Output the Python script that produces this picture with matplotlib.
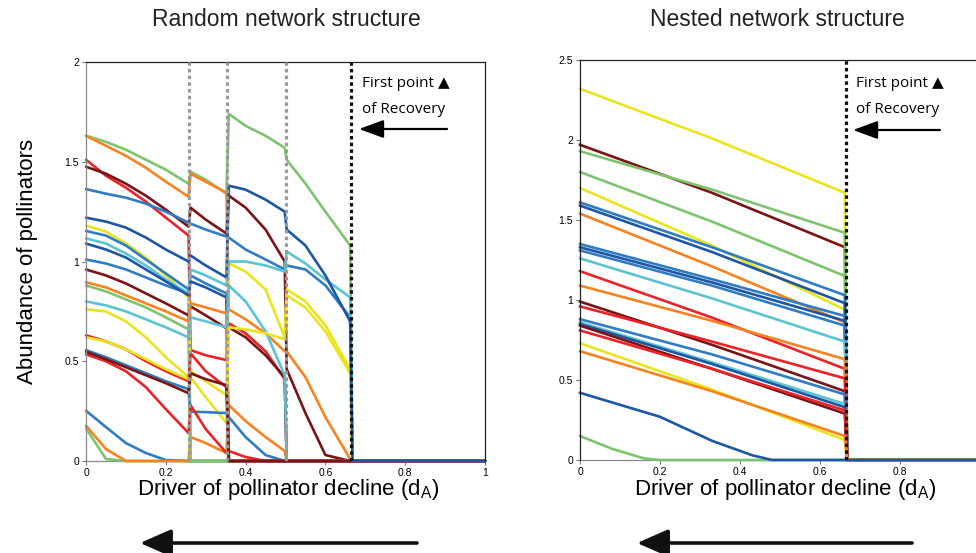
import matplotlib
matplotlib.use("Agg")
import matplotlib.pyplot as plt

plt.rcParams['font.family'] = ['Liberation Sans', 'DejaVu Sans']
plt.rcParams['mathtext.fontset'] = 'custom'
plt.rcParams['mathtext.rm'] = 'Liberation Sans'

GREEN = '#7dc46e'
ORANGE = '#f7821f'
RED = '#ec2227'
DARKRED = '#7a1315'
BLUE = '#2f7cc4'
DARKBLUE = '#1e56a6'
YELLOW = '#e9e51a'
CYAN = '#5bc4d3'

# random network: abundances sampled on a grid that steps over the collapse points
random_x = [0, 0.05, 0.1, 0.15, 0.2, 0.257, 0.262, 0.3, 0.352, 0.358, 0.4, 0.45,
            0.498, 0.503, 0.55, 0.6, 0.662, 0.668, 1.0]
random_breaks = [0.258, 0.354, 0.50]
random_recovery = 0.664

random_colors = [GREEN, BLUE, ORANGE, BLUE, YELLOW, GREEN,
                 GREEN, ORANGE, RED, DARKRED, BLUE, YELLOW, BLUE, CYAN, DARKBLUE,
                 DARKRED, ORANGE, CYAN, RED, YELLOW, BLUE, RED,
                 DARKRED, DARKBLUE]
random_curves = [
    [0.164, 0.01, 0, 0, 0, 0, 0, 0, 0, 0, 0, 0, 0, 0, 0, 0, 0, 0, 0],
    [0.252, 0.17, 0.09, 0.04, 0.005, 0, 0, 0, 0, 0, 0, 0, 0, 0, 0, 0, 0, 0, 0],
    [0.177, 0.06, 0, 0, 0, 0, 0.12, 0.09, 0.04, 0.28, 0.20, 0.12, 0.05, 0, 0, 0, 0, 0, 0],
    [1.01, 0.99, 0.96, 0.92, 0.88, 0.84, 0, 0, 0, 0, 0, 0, 0, 0, 0, 0, 0, 0, 0],
    [0.76, 0.75, 0.70, 0.62, 0.52, 0.42, 0, 0, 0, 0, 0, 0, 0, 0, 0, 0, 0, 0, 0],
    [0.88, 0.85, 0.81, 0.77, 0.72, 0.66, 0, 0, 0, 0, 0, 0, 0, 0, 0, 0, 0, 0, 0],
    [1.63, 1.60, 1.56, 1.51, 1.46, 1.39, 1.45, 1.41, 1.34, 1.74, 1.68, 1.63, 1.57, 1.51, 1.39, 1.25, 1.08, 0, 0],
    [1.63, 1.58, 1.53, 1.47, 1.40, 1.325, 1.44, 1.40, 1.345, 0.76, 0.71, 0.64, 0.55, 0.55, 0.42, 0.22, 0.01, 0, 0],
    [1.51, 1.43, 1.37, 1.30, 1.22, 1.13, 0.556, 0.53, 0.506, 0.69, 0.64, 0.55, 0.41, 0, 0, 0, 0, 0, 0],
    [1.475, 1.44, 1.39, 1.33, 1.26, 1.175, 1.27, 1.21, 1.14, 1.33, 1.27, 1.16, 1.0, 0.46, 0.24, 0.03, 0, 0, 0],
    [1.363, 1.34, 1.32, 1.29, 1.25, 1.195, 1.19, 1.16, 1.125, 1.12, 1.06, 1.01, 0.96, 0.98, 0.96, 0.88, 0.72, 0, 0],
    [1.18, 1.15, 1.09, 1.02, 0.93, 0.82, 0.45, 0.40, 0.33, 0.99, 0.95, 0.86, 0.62, 0.86, 0.80, 0.68, 0.46, 0, 0],
    [1.153, 1.13, 1.08, 1.01, 0.94, 0.86, 0.93, 0.89, 0.84, 0, 0, 0, 0, 0, 0, 0, 0, 0, 0],
    [1.116, 1.09, 1.04, 0.98, 0.91, 0.84, 0.96, 0.93, 0.88, 1.0, 1.0, 0.98, 0.95, 1.05, 0.99, 0.91, 0.82, 0, 0],
    [1.09, 1.06, 1.02, 0.96, 0.90, 0.83, 0.90, 0.87, 0.82, 0, 0, 0, 0, 0, 0, 0, 0, 0, 0],
    [0.96, 0.93, 0.89, 0.84, 0.79, 0.73, 0.775, 0.73, 0.665, 0.67, 0.62, 0.53, 0.42, 0, 0, 0, 0, 0, 0],
    [0.896, 0.87, 0.83, 0.79, 0.75, 0.70, 0.79, 0.77, 0.74, 0, 0, 0, 0, 0, 0, 0, 0, 0, 0],
    [0.80, 0.78, 0.75, 0.71, 0.67, 0.62, 0.72, 0.70, 0.67, 0.88, 0.80, 0.65, 0.43, 0, 0, 0, 0, 0, 0],
    [0.63, 0.60, 0.56, 0.50, 0.45, 0.40, 0.54, 0.45, 0.37, 0, 0, 0, 0, 0, 0, 0, 0, 0, 0],
    [0.62, 0.60, 0.56, 0.51, 0.46, 0.41, 0.42, 0.32, 0.19, 0.67, 0.66, 0.64, 0.61, 0.83, 0.77, 0.65, 0.44, 0, 0],
    [0.556, 0.52, 0.48, 0.44, 0.40, 0.36, 0.247, 0.245, 0.24, 0.22, 0.12, 0.03, 0, 0, 0, 0, 0, 0, 0],
    [0.535, 0.50, 0.45, 0.37, 0.26, 0.14, 0.28, 0.16, 0.04, 0.05, 0.02, 0, 0, 0, 0, 0, 0, 0, 0],
    [0.548, 0.51, 0.47, 0.43, 0.39, 0.34, 0.44, 0.41, 0.38, 0, 0, 0, 0, 0, 0, 0, 0, 0, 0],
    [1.22, 1.20, 1.17, 1.12, 1.06, 1.0, 1.03, 0.98, 0.92, 1.38, 1.36, 1.31, 1.25, 1.16, 1.08, 0.93, 0.70, 0, 0],
]

# nested network: near-linear declines, all collapse at the same point
nested_x = [0, 0.33, 0.662, 0.668, 1.0]
nested_recovery = 0.665
nested_colors = [YELLOW, DARKRED, GREEN, GREEN, YELLOW, BLUE, DARKBLUE, ORANGE,
                 BLUE, DARKBLUE, BLUE, CYAN, RED, ORANGE, DARKRED, RED, BLUE,
                 CYAN, DARKBLUE, DARKRED, RED, YELLOW, ORANGE]
nested_start = [2.32, 1.97, 1.93, 1.80, 1.70, 1.61, 1.59, 1.54, 1.35, 1.33, 1.31,
                1.26, 1.18, 1.09, 0.99, 0.96, 0.88, 0.86, 0.85, 0.84, 0.81, 0.73, 0.68]
nested_mid = [2.01, 1.67, 1.69, 1.49, 1.34, 1.33, 1.30, 1.21, 1.13, 1.11, 1.09,
              1.01, 0.89, 0.87, 0.72, 0.74, 0.66, 0.61, 0.60, 0.57, 0.57, 0.44, 0.43]
nested_end = [1.67, 1.33, 1.42, 1.15, 0.94, 1.03, 0.98, 0.86, 0.90, 0.87, 0.84,
              0.74, 0.57, 0.63, 0.43, 0.51, 0.41, 0.35, 0.33, 0.29, 0.31, 0.125, 0.15]
# the two species that die out before the collapse
fade_green_x = [0, 0.08, 0.16, 0.2, 1.0]
fade_green_y = [0.15, 0.07, 0.01, 0, 0]
fade_blue_x = [0, 0.2, 0.33, 0.43, 0.48, 1.0]
fade_blue_y = [0.42, 0.27, 0.12, 0.03, 0, 0]

random_xticks = [0, 0.2, 0.4, 0.6, 0.8, 1]
random_xticklabels = ['0', '0.2', '0.4', '0.6', '0.8', '1']
nested_xticks = [0, 0.2, 0.4, 0.6, 0.8]
nested_xticklabels = ['0', '0.2', '0.4', '0.6', '0.8']
random_yticks = [0, 0.5, 1, 1.5, 2]
random_yticklabels = ['0', '0.5', '1', '1.5', '2']
nested_yticks = [0, 0.5, 1, 1.5, 2, 2.5]
nested_yticklabels = ['0', '0.5', '1', '1.5', '2', '2.5']

LW = 1.9
DOTS = (0, (1.1, 1.0))


def style_axes(ax, ymax, xticks, xticklabels, yticks, yticklabels, left_color):
    ax.set_xlim(0, 1)
    ax.set_ylim(0, ymax)
    ax.set_xticks(xticks)
    ax.set_xticklabels(xticklabels)
    ax.set_yticks(yticks)
    ax.set_yticklabels(yticklabels)
    ax.tick_params(direction='out', length=3, width=0.8, color='#777777',
                   labelsize=7.5, pad=2)
    ax.spines['left'].set_color(left_color)
    ax.spines['bottom'].set_color('#888888')
    ax.spines['top'].set_color('#222222')
    ax.spines['right'].set_color('#222222')
    for s in ax.spines.values():
        s.set_linewidth(0.9)
    ax.spines['bottom'].set_zorder(0)


fig = plt.figure(figsize=(9.76, 5.53), dpi=100)
ax1 = fig.add_axes([86 / 976, 92 / 553, 399 / 976, 399 / 553])
ax2 = fig.add_axes([580 / 976, 93 / 553, 400 / 976, 400 / 553])

for ys, c in zip(random_curves, random_colors):
    ax1.plot(random_x, ys, color=c, lw=LW, solid_capstyle='round',
             solid_joinstyle='round', clip_on=False)
for b in random_breaks:
    ax1.plot([b, b], [0, 2], color='#999999', lw=2.3, linestyle=DOTS, zorder=5)
ax1.plot([random_recovery] * 2, [0, 2], color='#111111', lw=2.3, linestyle=DOTS, zorder=6)
style_axes(ax1, 2, random_xticks, random_xticklabels,
           random_yticks, random_yticklabels, '#888888')

for c, y0, y1, y2 in zip(nested_colors, nested_start, nested_mid, nested_end):
    ax2.plot(nested_x, [y0, y1, y2, 0, 0], color=c, lw=LW,
             solid_joinstyle='round', clip_on=False)
ax2.plot(fade_green_x, fade_green_y, color=GREEN, lw=LW, clip_on=False)
ax2.plot(fade_blue_x, fade_blue_y, color=DARKBLUE, lw=LW, clip_on=False)
ax2.plot([nested_recovery] * 2, [0, 2.5], color='#111111', lw=2.3, linestyle=DOTS, zorder=6)
style_axes(ax2, 2.5, nested_xticks, nested_xticklabels,
           nested_yticks, nested_yticklabels, '#222222')

# titles and axis labels
fig.text(286 / 976, 1 - 19 / 553, 'Random network structure', ha='center', va='center',
         fontsize=16.5, color='#222222')
fig.text(777 / 976, 1 - 19 / 553, 'Nested network structure', ha='center', va='center',
         fontsize=16.5, color='#222222')
fig.text(28 / 976, 1 - 261 / 553, 'Abundance of pollinators', rotation=90,
         ha='center', va='center', fontsize=16)

xlab = r'Driver of pollinator decline (d$_{\mathregular{A}}$)'
for cx in (288, 785):
    fig.text(cx / 976, 1 - 490 / 553, xlab, ha='center', va='center', fontsize=16)

# recovery notes with arrows
note_font = ['Open Sans', 'DejaVu Sans']
for tx, ax_tail, ax_head, ay in ((362, 447, 359, 129), (856, 940, 853, 130)):
    fig.text(tx / 976, 1 - 87 / 553, 'First point \u25B2', ha='left', va='baseline',
             fontsize=11, family=note_font)
    fig.text(tx / 976, 1 - 113 / 553, 'of Recovery', ha='left', va='baseline',
             fontsize=11, family=note_font)
    fig.add_artist(matplotlib.patches.FancyArrowPatch(
        (ax_tail, 553 - ay), (ax_head, 553 - ay), transform=None,
        arrowstyle='-|>,head_length=1.5,head_width=0.55', mutation_scale=10,
        lw=1.6, color='black', shrinkA=0, shrinkB=0))

# direction arrows under the x labels
for tail, head in ((417, 140), (912, 637)):
    fig.add_artist(matplotlib.patches.FancyArrowPatch(
        (tail, 553 - 543), (head, 553 - 543), transform=None,
        arrowstyle='-|>,head_length=1.6,head_width=0.7', mutation_scale=12,
        lw=2.6, color='#111111', shrinkA=0, shrinkB=0))

fig.savefig('out.png', dpi=100)
